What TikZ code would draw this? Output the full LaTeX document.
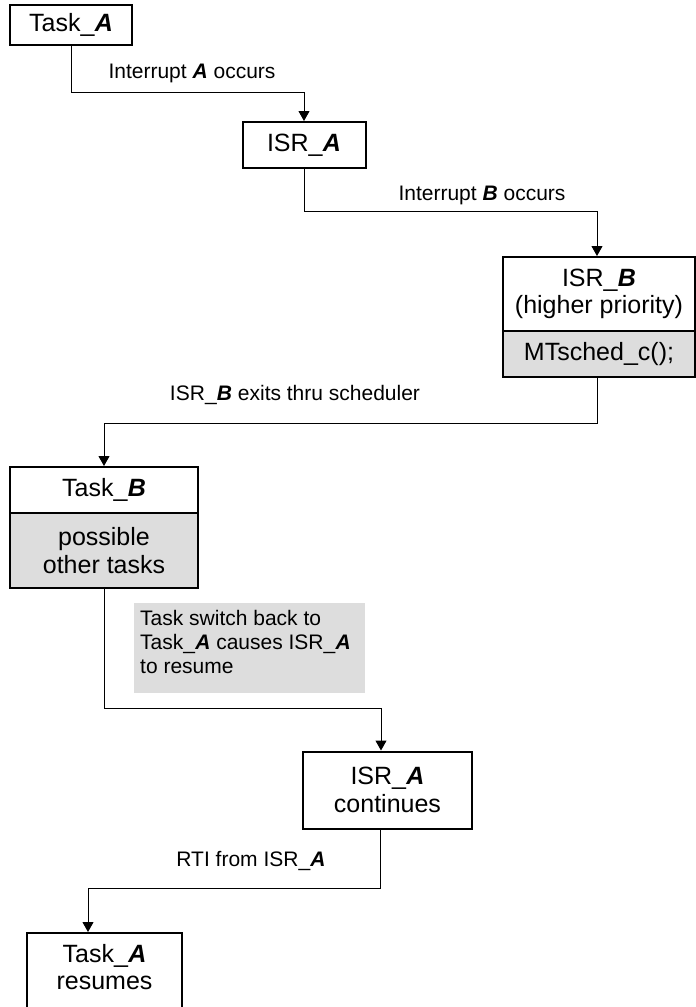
\documentclass[tikz,border=0pt]{standalone}
\usepackage{fontspec}
\setmainfont{Liberation Sans}
\usetikzlibrary{arrows.meta}
\definecolor{boxgray}{RGB}{221,221,221}
\newcommand{\bi}[1]{\textbf{\textit{#1}}}
\begin{document}
\begin{tikzpicture}[x=1pt,y=-1pt,
  box/.style={draw, line width=2pt, inner sep=0pt, align=center, font=\fontsize{25}{27.5}\selectfont},
  shaded/.style={box, fill=boxgray},
  boxtext/.style={inner sep=0pt, align=center, font=\fontsize{25}{27.5}\selectfont},
  lbl/.style={inner sep=0pt, font=\fontsize{21}{24}\selectfont},
  notebox/.style={fill=boxgray, inner sep=0pt},
  notetext/.style={inner sep=0pt, align=left, font=\fontsize{21}{24}\selectfont},
  conn/.style={line width=1pt, -{Triangle[length=10pt,width=11pt]}}]
\useasboundingbox (0,0) rectangle (696,1007);
\clip (0,0) rectangle (696,1007);

% boxes
\node[box, minimum width=122pt, minimum height=40pt] (taskA) at (71,25) {Task\_\bi{A}};
\node[box, minimum width=123pt, minimum height=46pt] (isrA) at (304,145) {ISR\_\bi{A}};
\node[box, minimum width=192pt, minimum height=74pt] (isrBt) at (599,294) {ISR\_\bi{B}\\(higher priority)};
\node[shaded, minimum width=192pt, minimum height=46pt] (isrBb) at (599,354) {MTsched\_c();};
\node[box, minimum width=188pt, minimum height=46pt] (taskBt) at (104,490) {Task\_\bi{B}};
\node[shaded, minimum width=188pt, minimum height=75pt] (taskBb) at (104,550.5) {possible\\other tasks};
\node[notebox, minimum width=231pt, minimum height=90pt] (note) at (249.5,648) {};
\node[notetext, anchor=north west] (notetxt) at (140,610) {Task switch back to\\Task\_\bi{A} causes ISR\_\bi{A}\\to resume};
\node[box, minimum width=169pt, minimum height=77pt] (isrAc) at (387.5,790) {ISR\_\bi{A}\\continues};
\node[box, minimum width=155pt, minimum height=90pt] (taskAr) at (104.5,978) {};
\node[boxtext] (taskArTxt) at (104.5,967) {Task\_\bi{A}\\resumes};

% labels
\node[lbl, anchor=base] (lA) at (192,78) {Interrupt \bi{A} occurs};
\node[lbl, anchor=base] (lB) at (482,200) {Interrupt \bi{B} occurs};
\node[lbl, anchor=base] (lC) at (295,400) {ISR\_\bi{B} exits thru scheduler};
\node[lbl, anchor=base] (lD) at (251,866) {RTI from ISR\_\bi{A}};

% connectors
\coordinate (h1) at (304,92);
\draw[conn] (taskA.south) |- (h1) -- (isrA.north);
\coordinate (h2) at (597,211);
\draw[conn] (isrA.south) |- (h2) -- (h2 |- isrBt.north);
\coordinate (h3) at (597,423);
\draw[conn] (isrBb.south -| h3) -- (h3) -| (taskBt.north);
\coordinate (h4) at (381,708);
\draw[conn] (taskBb.south) |- (h4) -- (h4 |- isrAc.north);
\coordinate (h5) at (380,888);
\coordinate (h6) at (88,888);
\draw[conn] (isrAc.south -| h5) -- (h5) -- (h6) -- (h6 |- taskAr.north);
\end{tikzpicture}
\end{document}
